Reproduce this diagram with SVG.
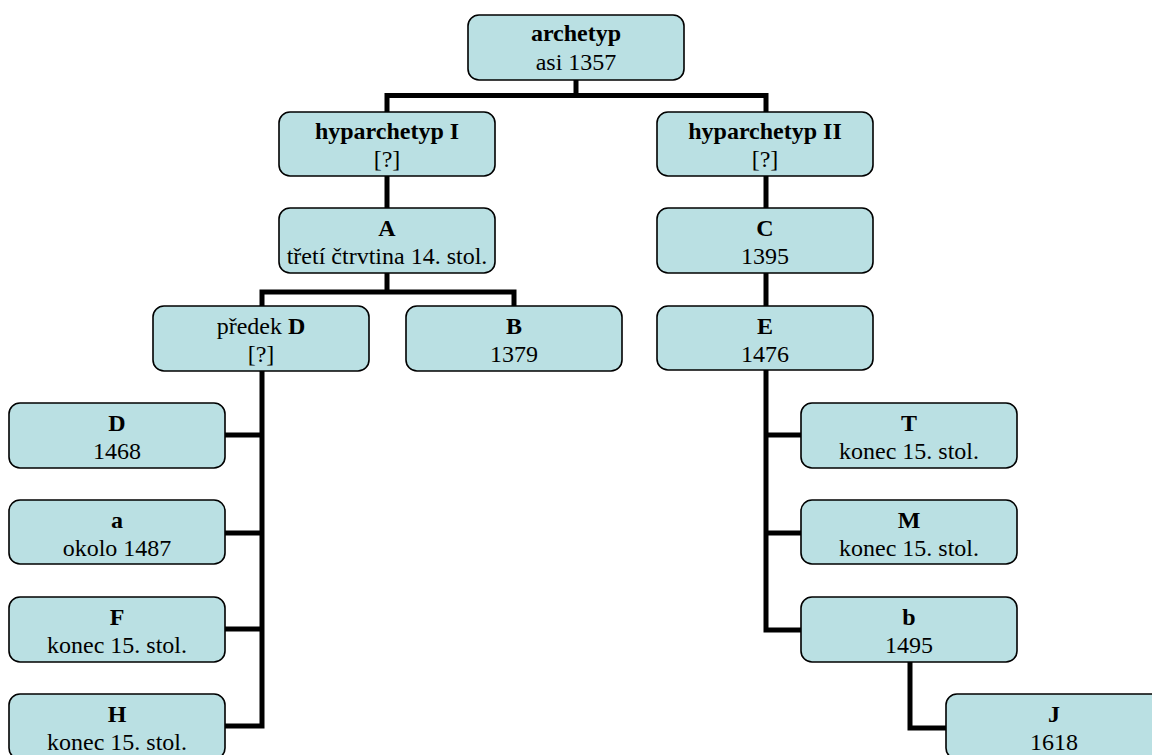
<svg xmlns="http://www.w3.org/2000/svg" width="1152" height="755" viewBox="0 0 1152 755">
<style>
.box{fill:#bae0e3;stroke:#000;stroke-width:1.6}
.t{font-family:"Liberation Serif","Times New Roman",serif;font-size:24px;fill:#000;text-anchor:middle}
.b{font-weight:bold}
.c{fill:none;stroke:#000;stroke-width:5;stroke-linejoin:miter;stroke-linecap:butt}
</style>
<rect width="1152" height="755" fill="#fff"/>
<g id="connectors">
<path class="c" d="M576 80 V95.5"/>
<path class="c" d="M387 112 V95.5 H766 V112"/>
<path class="c" d="M387 176 V208"/>
<path class="c" d="M387 273 V292"/>
<path class="c" d="M262 306 V292 H514 V306"/>
<path class="c" d="M262 371 V726 H225"/>
<path class="c" d="M225 435 H262 M225 533 H262 M225 629 H262"/>
<path class="c" d="M766 176 V208"/>
<path class="c" d="M766 273 V306"/>
<path class="c" d="M766 370 V630 H801"/>
<path class="c" d="M766 435 H801 M766 533 H801"/>
<path class="c" d="M910 662 V728 H946"/>
</g>
<g id="archetyp"><rect class="box" x="468" y="15" width="216" height="65" rx="11"/><text class="t b" x="576" y="41">archetyp</text><text class="t" x="576" y="70">asi 1357</text></g>
<g id="hypI"><rect class="box" x="279" y="112" width="216" height="64" rx="11"/><text class="t b" x="387" y="139">hyparchetyp I</text><text class="t" x="387" y="167">[?]</text></g>
<g id="hypII"><rect class="box" x="657" y="112" width="216" height="64" rx="11"/><text class="t b" x="765" y="139">hyparchetyp II</text><text class="t" x="765" y="167">[?]</text></g>
<g id="A"><rect class="box" x="279" y="208" width="216" height="65" rx="11"/><text class="t b" x="387" y="235.5">A</text><text class="t" x="387" y="264">třetí čtrvtina 14. stol.</text></g>
<g id="C"><rect class="box" x="657" y="208" width="216" height="65" rx="11"/><text class="t b" x="765" y="235.5">C</text><text class="t" x="765" y="264">1395</text></g>
<g id="predekD"><rect class="box" x="153" y="306" width="216" height="65" rx="11"/><text class="t" x="261" y="333.5">předek <tspan class="b">D</tspan></text><text class="t" x="261" y="362">[?]</text></g>
<g id="B"><rect class="box" x="406" y="306" width="216" height="65" rx="11"/><text class="t b" x="514" y="333.5">B</text><text class="t" x="514" y="362">1379</text></g>
<g id="E"><rect class="box" x="657" y="306" width="216" height="64" rx="11"/><text class="t b" x="765" y="333.5">E</text><text class="t" x="765" y="362">1476</text></g>
<g id="D"><rect class="box" x="9" y="403" width="216" height="65" rx="11"/><text class="t b" x="117" y="430.5">D</text><text class="t" x="117" y="459">1468</text></g>
<g id="a"><rect class="box" x="9" y="500" width="216" height="64" rx="11"/><text class="t b" x="117" y="527.5">a</text><text class="t" x="117" y="556">okolo 1487</text></g>
<g id="F"><rect class="box" x="9" y="597" width="216" height="65" rx="11"/><text class="t b" x="117" y="624.5">F</text><text class="t" x="117" y="653">konec 15. stol.</text></g>
<g id="H"><rect class="box" x="9" y="694" width="216" height="65" rx="11"/><text class="t b" x="117" y="721.5">H</text><text class="t" x="117" y="750">konec 15. stol.</text></g>
<g id="T"><rect class="box" x="801" y="403" width="216" height="65" rx="11"/><text class="t b" x="909" y="430.5">T</text><text class="t" x="909" y="459">konec 15. stol.</text></g>
<g id="M"><rect class="box" x="801" y="500" width="216" height="64" rx="11"/><text class="t b" x="909" y="527.5">M</text><text class="t" x="909" y="556">konec 15. stol.</text></g>
<g id="b"><rect class="box" x="801" y="597" width="216" height="65" rx="11"/><text class="t b" x="909" y="624.5">b</text><text class="t" x="909" y="653">1495</text></g>
<g id="J"><rect class="box" x="946" y="694" width="216" height="65" rx="11"/><text class="t b" x="1054" y="721.5">J</text><text class="t" x="1054" y="750">1618</text></g>
</svg>
